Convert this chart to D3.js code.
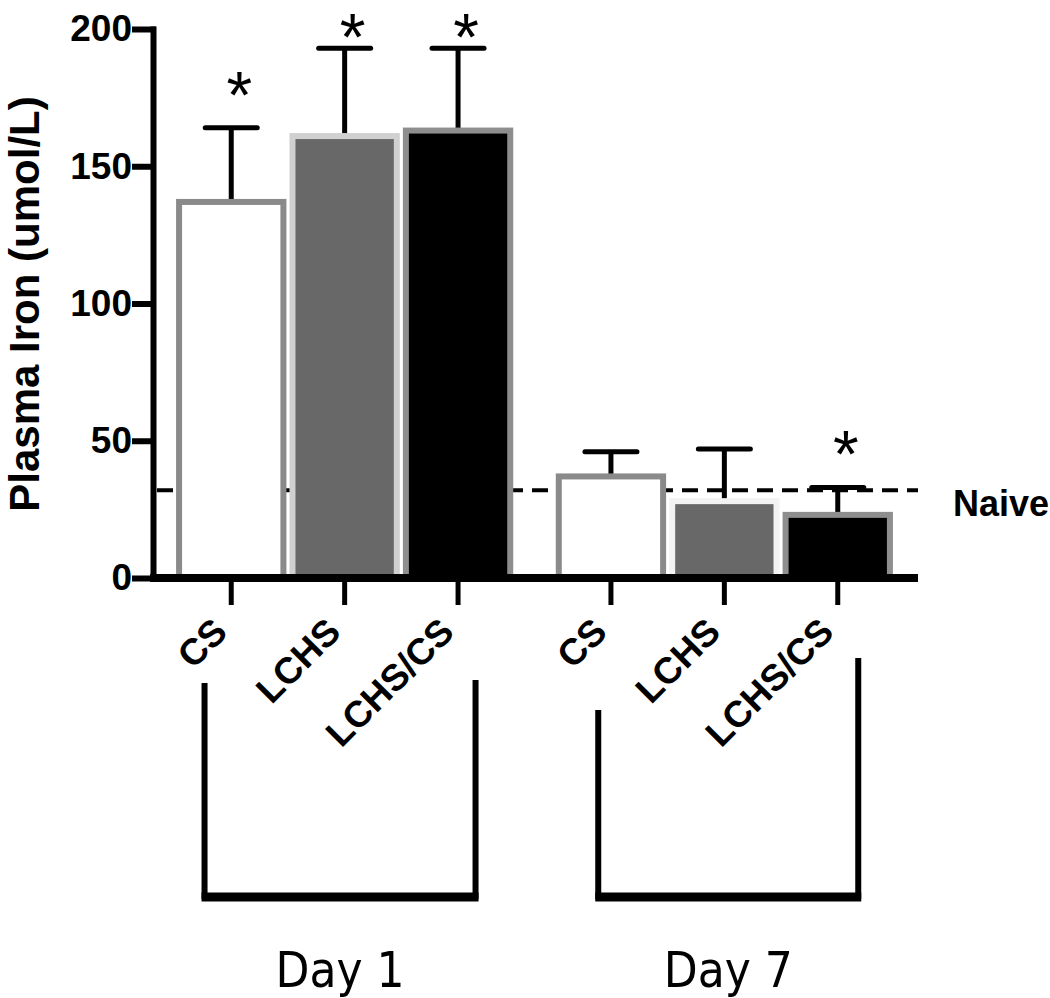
<!DOCTYPE html>
<html>
  <head>
    <meta charset="utf-8" />
    <title>Plasma Iron</title>
    <script src="https://d3js.org/d3.v7.min.js"></script>
    <style>
      body { margin: 0; background: #fff; }
      svg text { font-family: "Liberation Sans", Arial, sans-serif; }
    </style>
  </head>
  <body>
    <svg id="chart" width="1050" height="998"></svg>

    <script>
      // Datos
      const days = ["Day 1", "Day 7"];
      const conditions = ["CS", "LCHS", "LCHS/CS"];
      const meanDay1 = [137, 161, 163];
      const meanDay7 = [37, 28, 23];
      const semDay1 = [27, 32, 30];
      const semDay7 = [9, 19, 10];
      const sigDay1 = [true, true, true];
      const sigDay7 = [false, false, true];
      const naiveLevel = 32;
      const yTicks = [0, 50, 100, 150, 200];

      const rows = [];
      days.forEach((day, i) => {
        const means = i === 0 ? meanDay1 : meanDay7;
        const sems = i === 0 ? semDay1 : semDay7;
        const sigs = i === 0 ? sigDay1 : sigDay7;
        conditions.forEach((cond, j) => {
          rows.push({ day, cond, mean: means[j], sem: sems[j], sig: sigs[j] });
        });
      });

      const svg = d3.select("#chart");

      // Escalas
      const x0 = d3.scaleBand().domain(days).range([151, 918])
        .paddingInner(0.104).paddingOuter(0.062);
      const x1 = d3.scaleBand().domain(conditions).range([0, x0.bandwidth()])
        .paddingInner(0.08).paddingOuter(0.04);
      const y = d3.scaleLinear().domain([0, 200]).range([578, 29]);
      const cx = (d) => x0(d.day) + x1(d.cond) + x1.bandwidth() / 2;

      const fills = { CS: "#ffffff", LCHS: "#686868", "LCHS/CS": "#000000" };
      const strokes = { CS: "#8a8a8a", LCHS: "#d0d0d0", "LCHS/CS": "#8e8e8e" };

      // Línea "Naive" (detrás de las barras)
      svg.append("line")
        .attr("x1", 157).attr("x2", 918)
        .attr("y1", y(naiveLevel)).attr("y2", y(naiveLevel))
        .attr("stroke", "#000").attr("stroke-width", 4)
        .attr("stroke-dasharray", "16,9");

      svg.append("text")
        .attr("x", 953).attr("y", y(naiveLevel) + 26)
        .style("font-size", "36px").style("font-weight", "bold")
        .text("Naive");

      // Barras de error
      const err = svg.append("g").attr("stroke", "#000").attr("stroke-width", 5);
      err.selectAll(".stem").data(rows).enter().append("line")
        .attr("x1", cx).attr("x2", cx)
        .attr("y1", (d) => y(d.mean)).attr("y2", (d) => y(d.mean + d.sem));
      err.selectAll(".cap").data(rows).enter().append("line")
        .attr("stroke-linecap", "round")
        .attr("x1", (d) => cx(d) - 26).attr("x2", (d) => cx(d) + 26)
        .attr("y1", (d) => y(d.mean + d.sem)).attr("y2", (d) => y(d.mean + d.sem));

      // Barras
      svg.append("g").selectAll("rect").data(rows).enter().append("rect")
        .attr("x", (d) => x0(d.day) + x1(d.cond))
        .attr("width", x1.bandwidth())
        .attr("y", (d) => y(d.mean))
        .attr("height", (d) => y(0) - y(d.mean))
        .attr("fill", (d) => fills[d.cond])
        .attr("stroke", (d) => d.day === "Day 7" && d.cond === "LCHS" ? "#f2f2f2" : strokes[d.cond])
        .attr("stroke-width", 6);

      // Asteriscos
      const starSize = 66;
      svg.append("g").selectAll("text").data(rows.filter((d) => d.sig)).enter()
        .append("text")
        .attr("x", (d) => cx(d) + 8)
        .attr("y", (d) => Math.max(y(d.mean + d.sem) - 41, 29) + 0.47 * starSize)
        .attr("text-anchor", "middle")
        .style("font-size", starSize + "px")
        .text("*");

      // Eje Y
      const yAxis = svg.append("g")
        .attr("transform", "translate(153,0)")
        .call(d3.axisLeft(y).tickValues(yTicks).tickSize(18).tickSizeOuter(0).tickPadding(3));
      yAxis.select(".domain").attr("stroke-width", 6).attr("stroke-linecap", "square");
      yAxis.selectAll(".tick line").attr("stroke-width", 6).attr("stroke-linecap", "square");
      yAxis.selectAll(".tick text")
        .style("font-size", "37px").style("font-weight", "bold")
        .style("font-family", "'Liberation Sans', Arial, sans-serif");

      // Eje X
      svg.append("line")
        .attr("x1", 150).attr("x2", 918)
        .attr("y1", y(0)).attr("y2", y(0))
        .attr("stroke", "#000").attr("stroke-width", 8);
      svg.append("g").selectAll("line").data(rows).enter().append("line")
        .attr("x1", cx).attr("x2", cx)
        .attr("y1", y(0) + 3).attr("y2", y(0) + 27)
        .attr("stroke", "#000").attr("stroke-width", 5);

      svg.append("g").selectAll("text").data(rows).enter().append("text")
        .attr("transform", (d) => `translate(${cx(d) - 2},634) rotate(-45)`)
        .attr("text-anchor", "end")
        .style("font-size", "37px").style("font-weight", "bold")
        .text((d) => d.cond);

      // Título del eje Y
      svg.append("text")
        .attr("transform", "translate(39,304) rotate(-90)")
        .attr("text-anchor", "middle")
        .style("font-size", "42px").style("font-weight", "bold")
        .text("Plasma Iron (umol/L)");

      // Corchetes por día
      const bracketLayout = [
        { day: "Day 1", left: 30, right: 301, topL: 683, topR: 680 },
        { day: "Day 7", left: 44, right: 304, topL: 710, topR: 658 },
      ];
      const bottom = 896;
      const br = svg.append("g").selectAll("g").data(bracketLayout).enter().append("g");
      br.append("path")
        .attr("d", (b) => `M${x0(b.day) + b.left},${b.topL}V${bottom}H${x0(b.day) + b.right}V${b.topR}`)
        .attr("fill", "none").attr("stroke", "#000").attr("stroke-width", 6);
      br.append("line")
        .attr("x1", (b) => x0(b.day) + b.left - 3).attr("x2", (b) => x0(b.day) + b.right + 3)
        .attr("y1", bottom + 1).attr("y2", bottom + 1)
        .attr("stroke", "#000").attr("stroke-width", 9);
      br.append("text")
        .attr("x", (b) => x0(b.day) + (b.left + b.right) / 2)
        .attr("y", 987)
        .attr("text-anchor", "middle")
        .style("font-family", "'DejaVu Sans Condensed', 'DejaVu Sans', sans-serif")
        .style("font-stretch", "condensed")
        .style("font-size", "49px")
        .text((b) => b.day);
    </script>
  </body>
</html>
